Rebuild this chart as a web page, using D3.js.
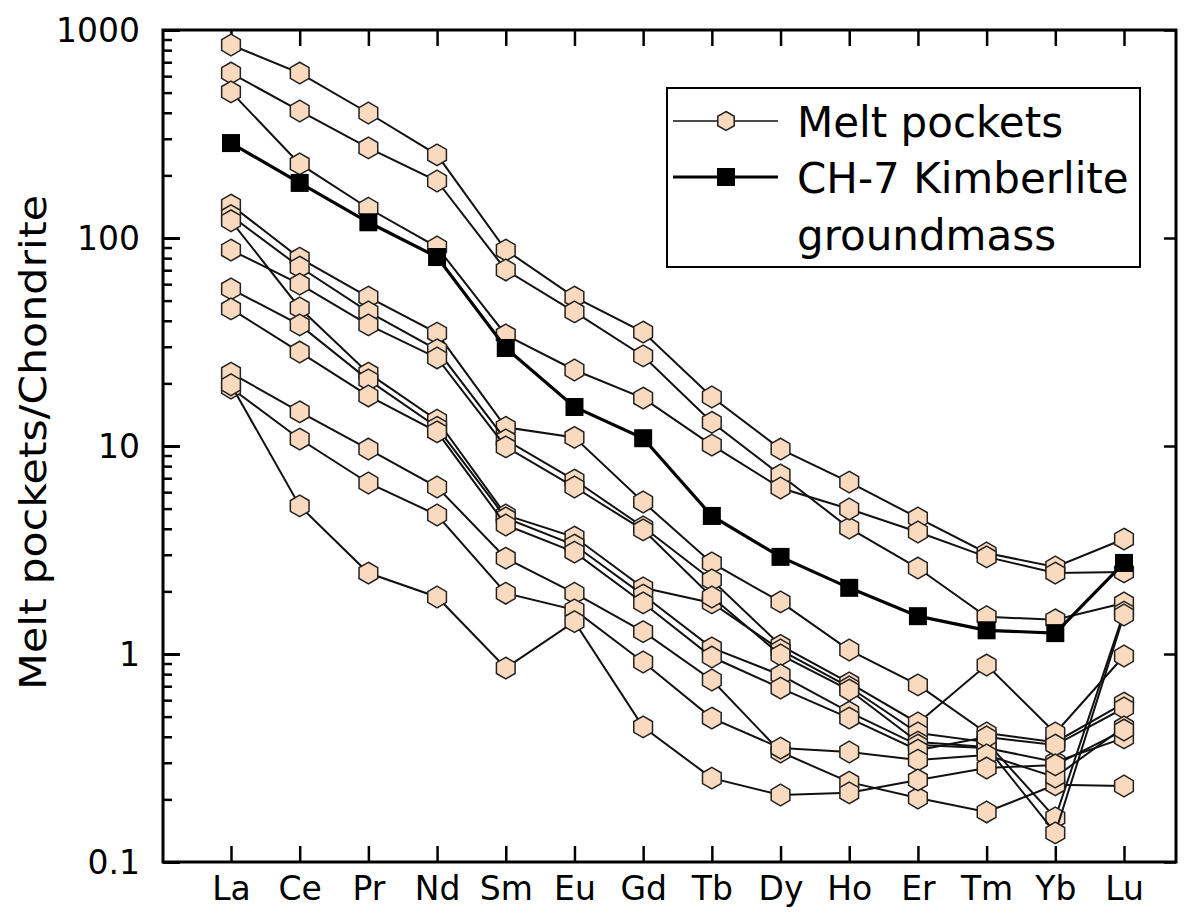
<!DOCTYPE html>
<html>
<head>
<meta charset="utf-8">
<script src="https://cdn.jsdelivr.net/npm/d3@7"></script>
<style>
  html, body { margin: 0; padding: 0; background: #fff; }
  svg { display: block; }
  text { font-family: "DejaVu Sans", Verdana, sans-serif; fill: #000; }
</style>
</head>
<body>
<svg id="chart" width="1190" height="914"></svg>
<script>
// ---------------- DATA ----------------
const categories = ["La","Ce","Pr","Nd","Sm","Eu","Gd","Tb","Dy","Ho","Er","Tm","Yb","Lu"];
const yTickValues = [0.1, 1, 10, 100, 1000];
const yTickLabels = ["0.1", "1", "10", "100", "1000"];

// Melt pocket analyses (normalised to chondrite)
const meltA = [847, 621, 399, 251, 87.5, 52, 35.3, 17.2, 9.67, 6.71, 4.51, 3.06, 2.62, 3.57];
const meltB = [621, 408, 271, 188, 70.2, 44.1, 27.1, 13.0, 7.26, 4.03, 2.59, 1.51, 1.46, 1.76];
const meltC = [504, 227, 139, 90.5, 34.2, 23.2, 17.0, 10.1, 6.28, 4.98, 3.86, 2.93, 2.45, 2.48];
const meltD = [144, 80, 52, 34.9, 12.3, 11.0, 5.38, 2.74, 1.78, 1.045, 0.71, 0.417, 0.377, 0.581];
const meltE = [128, 72.5, 44.1, 29.0, 10.7, 6.86, 4.08, 2.27, 1.10, 0.726, 0.466, 0.885, 0.417, 0.978];
const meltF = [121, 46.1, 22.4, 13.3, 4.66, 3.65, 2.08, 1.76, 1.045, 0.694, 0.417, 0.377, 0.163, 1.59];
const meltG = [87.5, 60, 38.2, 26.5, 9.9, 6.35, 3.95, 1.88, 0.989, 0.671, 0.377, 0.357, 0.138, 1.54];
const meltH = [56.9, 38.2, 20.8, 12.3, 4.51, 3.34, 1.92, 1.07, 0.793, 0.526, 0.365, 0.353, 0.303, 0.395];
const meltI = [45.6, 28.3, 17.4, 11.7, 4.17, 3.09, 1.76, 0.967, 0.686, 0.492, 0.345, 0.399, 0.365, 0.55];
const meltJ = [22.4, 14.6, 9.67, 6.35, 2.89, 1.96, 1.28, 0.75, 0.338, 0.242, 0.203, 0.174, 0.235, 0.232];
const meltK = [19.0, 10.8, 6.64, 4.66, 1.96, 1.63, 0.915, 0.492, 0.353, 0.338, 0.309, 0.327, 0.256, 0.446];
const meltL = [19.7, 5.15, 2.45, 1.88, 0.856, 1.43, 0.446, 0.253, 0.210, 0.215, 0.248, 0.283, 0.293, 0.431];

// CH-7 kimberlite groundmass
const kimberlite = [286, 184, 119, 81, 29.6, 15.4, 10.9, 4.61, 2.93, 2.08, 1.52, 1.30, 1.26, 2.74];

const meltSeries = [meltA, meltB, meltC, meltD, meltE, meltF, meltG, meltH, meltI, meltJ, meltK, meltL];
const legendLabels = ["Melt pockets", "CH-7 Kimberlite", "groundmass"];
const yAxisTitle = "Melt pockets/Chondrite";

// ---------------- LAYOUT ----------------
const frame = { left: 163, right: 1176, top: 30, bottom: 862 };
const svg = d3.select("#chart");

const x = d3.scalePoint().domain(categories).range([231, 1124]);
const y = d3.scaleLog().domain([0.1, 1000]).range([frame.bottom, frame.top]);

const peach = "#FADABE";
const hexR = 10.8;
function hexPath(r) {
  const pts = d3.range(6).map(i => {
    const a = (Math.PI / 180) * (-90 + 60 * i);
    return [r * Math.cos(a), r * Math.sin(a)];
  });
  return "M" + pts.map(p => p[0].toFixed(2) + "," + p[1].toFixed(2)).join("L") + "Z";
}
const HEX = hexPath(hexR);

// ---------------- AXES ----------------
const minorVals = [];
[0.1, 1, 10, 100].forEach(d => { for (let k = 2; k <= 9; k++) minorVals.push(d * k); });

// left axis major
const leftMajor = d3.axisLeft(y).tickValues(yTickValues).tickFormat((d, i) => yTickLabels[i])
  .tickSizeInner(-17).tickSizeOuter(0).tickPadding(23);
const gL = svg.append("g").attr("transform", `translate(${frame.left},0)`).call(leftMajor);
gL.select(".domain").remove();
gL.selectAll(".tick line").attr("stroke", "#000").attr("stroke-width", 3);
gL.selectAll(".tick text").style("font-size", "33px").attr("dy", "0.36em");

// left minor
const leftMinor = d3.axisLeft(y).tickValues(minorVals).tickFormat("").tickSizeInner(-9).tickSizeOuter(0);
const gLm = svg.append("g").attr("transform", `translate(${frame.left},0)`).call(leftMinor);
gLm.select(".domain").remove();
gLm.selectAll(".tick line").attr("stroke", "#000").attr("stroke-width", 2.5);

// right axis major (inward)
const rightMajor = d3.axisRight(y).tickValues(yTickValues).tickFormat("").tickSizeInner(-12).tickSizeOuter(0);
const gR = svg.append("g").attr("transform", `translate(${frame.right},0)`).call(rightMajor);
gR.select(".domain").remove();
gR.selectAll(".tick line").attr("stroke", "#000").attr("stroke-width", 2.5);

// bottom axis
const bottomAxis = d3.axisBottom(x).tickSizeInner(-16).tickSizeOuter(0).tickPadding(15);
const gB = svg.append("g").attr("transform", `translate(0,${frame.bottom})`).call(bottomAxis);
gB.select(".domain").remove();
gB.selectAll(".tick line").attr("stroke", "#000").attr("stroke-width", 2.5);
gB.selectAll(".tick text").style("font-size", "33px");

// top axis
const topAxis = d3.axisTop(x).tickSizeInner(-16).tickSizeOuter(0).tickFormat("");
const gT = svg.append("g").attr("transform", `translate(0,${frame.top})`).call(topAxis);
gT.select(".domain").remove();
gT.selectAll(".tick line").attr("stroke", "#000").attr("stroke-width", 2.5);

// frame
svg.append("rect")
  .attr("x", frame.left).attr("y", frame.top)
  .attr("width", frame.right - frame.left).attr("height", frame.bottom - frame.top)
  .attr("fill", "none").attr("stroke", "#000").attr("stroke-width", 3);

// y axis title
svg.append("text")
  .attr("transform", `translate(46,${(195 + 690) / 2}) rotate(-90)`)
  .attr("text-anchor", "middle")
  .attr("textLength", 495)
  .attr("lengthAdjust", "spacingAndGlyphs")
  .style("font-size", "38px")
  .text(yAxisTitle);

// ---------------- SERIES ----------------
const line = d3.line().x((d, i) => x(categories[i])).y(d => y(d));
const plot = svg.append("g");

meltSeries.forEach(vals => {
  const g = plot.append("g");
  g.append("path").attr("d", line(vals))
    .attr("fill", "none").attr("stroke", "#111").attr("stroke-width", 2);
  g.selectAll("path.m").data(vals).enter().append("path")
    .attr("class", "m")
    .attr("d", HEX)
    .attr("transform", (d, i) => `translate(${x(categories[i])},${y(d)})`)
    .attr("fill", peach).attr("stroke", "#222").attr("stroke-width", 1.5);
});

// kimberlite
const gk = plot.append("g");
gk.append("path").attr("d", line(kimberlite))
  .attr("fill", "none").attr("stroke", "#000").attr("stroke-width", 3.2);
const sq = 18;
gk.selectAll("rect").data(kimberlite).enter().append("rect")
  .attr("x", (d, i) => x(categories[i]) - sq / 2)
  .attr("y", d => y(d) - sq / 2)
  .attr("width", sq).attr("height", sq)
  .attr("fill", "#000");

// ---------------- LEGEND ----------------
const lg = svg.append("g");
lg.append("rect").attr("x", 667).attr("y", 88).attr("width", 473).attr("height", 179)
  .attr("fill", "#fff").attr("stroke", "#000").attr("stroke-width", 2);
lg.append("line").attr("x1", 673).attr("x2", 778).attr("y1", 121).attr("y2", 121)
  .attr("stroke", "#111").attr("stroke-width", 1.5);
lg.append("path").attr("d", hexPath(9.5)).attr("transform", "translate(726,121)")
  .attr("fill", peach).attr("stroke", "#222").attr("stroke-width", 1.5);
lg.append("line").attr("x1", 673).attr("x2", 778).attr("y1", 177).attr("y2", 177)
  .attr("stroke", "#000").attr("stroke-width", 3);
lg.append("rect").attr("x", 726 - 9).attr("y", 177 - 9).attr("width", 18).attr("height", 18).attr("fill", "#000");
lg.append("text").attr("x", 797).attr("y", 137).style("font-size", "42px").text(legendLabels[0]);
lg.append("text").attr("x", 797).attr("y", 193).style("font-size", "42px").text(legendLabels[1]);
lg.append("text").attr("x", 797).attr("y", 250).style("font-size", "42px").text(legendLabels[2]);
</script>
</body>
</html>
